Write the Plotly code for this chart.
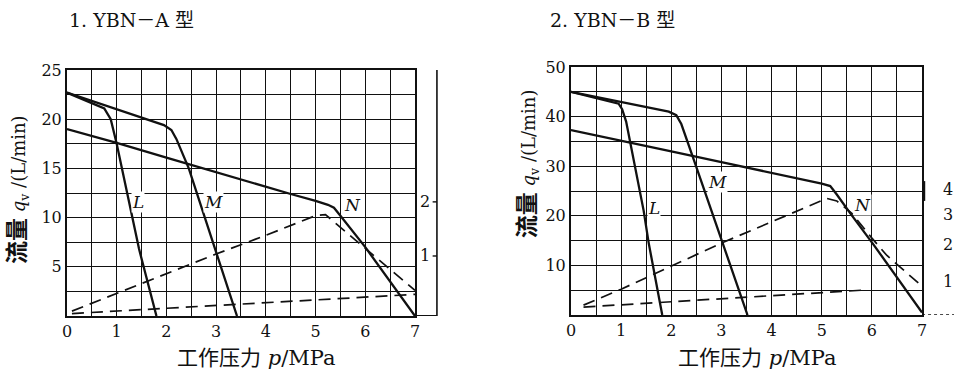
import plotly.graph_objects as go

# ---- data (p in MPa, q in L/min) ----
# 1. YBN-A
A_L_P = [0, 0.75, 0.88, 1.0, 1.45, 1.8]
A_L_Q = [22.7, 21.1, 20.0, 17.5, 6.8, 0]
A_M_P = [0, 1.95, 2.1, 2.2, 2.45, 3.0, 3.42]
A_M_Q = [22.7, 19.4, 18.9, 18.0, 15.0, 6.6, 0]
A_N_P = [0, 1, 2, 3, 4, 4.5, 5.0, 5.25, 5.37, 5.5, 6.0, 7.0]
A_N_Q = [19.0, 17.6, 16.1, 14.6, 13.1, 12.4, 11.7, 11.3, 11.0, 10.2, 7.0, 0]
A_D1_P = [0.1, 1.0, 2.0, 3.0, 4.0, 5.0, 5.2, 6.0, 7.0]
A_D1_Q = [0.5, 2.3, 4.3, 6.3, 8.2, 10.2, 10.3, 6.9, 2.6]
A_D2_P = [0.1, 7.0]
A_D2_Q = [0.25, 2.2]
A_TAGS = ["L", "M", "N"]
A_TAG_P = [1.43, 2.94, 5.75]
A_TAG_Q = [11.6, 11.6, 11.3]
A_SIDE = ["2", "1"]
A_SIDE_Q = [11.6, 6.1]

# 2. YBN-B
B_L_P = [0, 0.95, 1.02, 1.1, 1.45, 1.55, 1.82]
B_L_Q = [45, 42.6, 41.5, 39.0, 21.0, 14.5, 0]
B_M_P = [0, 1.95, 2.1, 2.2, 2.45, 3.0, 3.52]
B_M_Q = [45, 41.0, 40.3, 38.5, 31.3, 15.2, 0]
B_N_P = [0, 1, 2, 3, 4, 5.0, 5.17, 5.3, 5.57, 6.04, 7.0]
B_N_Q = [37.3, 35.2, 33.0, 30.8, 28.7, 26.5, 26.0, 24.3, 20.5, 14.1, 0.5]
B_D1_P = [0.25, 1.0, 3.0, 5.1, 5.3, 5.6, 6.0, 6.3, 7.0]
B_D1_Q = [2.0, 5.2, 14.5, 23.5, 23.0, 20.5, 15.5, 12.0, 5.8]
B_D2_P = [0.25, 5.8]
B_D2_Q = [1.6, 5.0]
B_TAGS = ["L", "M", "N"]
B_TAG_P = [1.65, 2.92, 5.81]
B_TAG_Q = [21.5, 26.8, 22.1]
B_SIDE = ["4", "3", "2", "1"]
B_SIDE_Q = [25.4, 20.3, 14.3, 6.8]

SERIF = "DejaVu Serif"
CJK = "Noto Sans CJK SC"
INK = "#111111"

fig = go.Figure()


def solid(p, q, xa, ya):
    fig.add_trace(go.Scatter(x=p, y=q, mode="lines", xaxis=xa, yaxis=ya,
                             line=dict(color=INK, width=2.3), showlegend=False,
                             hoverinfo="skip"))


def dashed(p, q, xa, ya):
    fig.add_trace(go.Scatter(x=p, y=q, mode="lines", xaxis=xa, yaxis=ya,
                             line=dict(color=INK, width=1.7, dash="12px,7px"),
                             showlegend=False, hoverinfo="skip"))


for p, q in [(A_L_P, A_L_Q), (A_M_P, A_M_Q), (A_N_P, A_N_Q)]:
    solid(p, q, "x", "y")
for p, q in [(A_D1_P, A_D1_Q), (A_D2_P, A_D2_Q)]:
    dashed(p, q, "x", "y")
for p, q in [(B_L_P, B_L_Q), (B_M_P, B_M_Q), (B_N_P, B_N_Q)]:
    solid(p, q, "x2", "y2")
for p, q in [(B_D1_P, B_D1_Q), (B_D2_P, B_D2_Q)]:
    dashed(p, q, "x2", "y2")

grid = dict(showgrid=True, gridcolor=INK, gridwidth=1.4, zeroline=False, automargin=False,
            showline=True, linecolor=INK, linewidth=2, mirror=True, ticks="",
            tickfont=dict(family=SERIF, size=16, color=INK), fixedrange=True)


def minor(step):
    return dict(tickmode="linear", tick0=0, dtick=step, showgrid=True,
                gridcolor=INK, gridwidth=1.4)


fig.update_layout(
    width=954, height=371,
    margin=dict(l=0, r=0, t=0, b=0),
    paper_bgcolor="white", plot_bgcolor="white",
    xaxis=dict(grid, domain=[0.0702, 0.4350], range=[0, 7], tickvals=list(range(8)),
               minor=minor(0.5), anchor="y"),
    yaxis=dict(grid, domain=[0.1482, 0.8113], range=[0, 25], tickvals=[5, 10, 15, 20, 25],
               minor=minor(2.5), anchor="x"),
    xaxis2=dict(grid, domain=[0.5985, 0.9665], range=[0, 7], tickvals=list(range(8)),
                minor=minor(0.5), anchor="y2"),
    yaxis2=dict(grid, domain=[0.1509, 0.8194], range=[0, 50], tickvals=[10, 20, 30, 40, 50],
                minor=minor(5), anchor="x2"),
)

# panel titles
for txt, x in [("1. YBN－A 型", 0.0702), ("2. YBN－B 型", 0.5744)]:
    fig.add_annotation(text=txt, xref="paper", yref="paper", x=x, y=0.946,
                       xanchor="left", yanchor="middle", showarrow=False,
                       font=dict(family=f"{SERIF}, {CJK}", size=19, color=INK))

# axis titles
xt = "工作压力 <i>p</i>/MPa"
for x in [0.2683, 0.7937]:
    fig.add_annotation(text=xt, xref="paper", yref="paper", x=x, y=0.035,
                       xanchor="center", yanchor="middle", showarrow=False,
                       font=dict(family=f"{SERIF}, {CJK}", size=21, color=INK))
yt = ('<span style="font-size:23px;font-weight:bold">流量</span> '
      '<i>q</i><sub>v</sub> /(L/min)')
for x, y in [(0.0189, 0.4879), (0.5524, 0.5600)]:
    fig.add_annotation(text=yt, xref="paper", yref="paper", x=x, y=y, textangle=-90,
                       xanchor="center", yanchor="middle", showarrow=False,
                       font=dict(family=f"{SERIF}, {CJK}", size=18, color=INK))

# curve tags
for tags, ps, qs, xr, yr in [(A_TAGS, A_TAG_P, A_TAG_Q, "x", "y"),
                             (B_TAGS, B_TAG_P, B_TAG_Q, "x2", "y2")]:
    for t, p, q in zip(tags, ps, qs):
        fig.add_annotation(text=f"<i>{t}</i>", x=p, y=q, xref=xr, yref=yr,
                           showarrow=False, bgcolor="white", borderpad=0,
                           font=dict(family=SERIF, size=17, color=INK))

# side scale of panel A
fig.add_shape(type="line", xref="paper", yref="y", x0=0.458, x1=0.458, y0=0, y1=25,
              line=dict(color=INK, width=1.6))
fig.add_shape(type="line", xref="paper", yref="y", x0=0.435, x1=0.458, y0=0, y1=0,
              line=dict(color=INK, width=2))
for t, q in zip(A_SIDE, A_SIDE_Q):
    fig.add_shape(type="line", xref="paper", yref="y", x0=0.4535, x1=0.458, y0=q, y1=q,
                  line=dict(color=INK, width=1.4))
    fig.add_annotation(text=t, xref="paper", yref="y", x=0.4525, y=q, xanchor="right",
                       showarrow=False, font=dict(family=SERIF, size=16, color=INK))

# side labels of panel B
fig.add_shape(type="line", xref="paper", yref="y2", x0=0.9665, x1=1.0, y0=0, y1=0,
              line=dict(color=INK, width=1.4, dash="dot"))
fig.add_shape(type="line", xref="paper", yref="y2", x0=0.969, x1=0.969, y0=23, y1=27,
              line=dict(color=INK, width=1.6))
for t, q in zip(B_SIDE, B_SIDE_Q):
    fig.add_annotation(text=t, xref="paper", yref="y2", x=0.9935, y=q, xanchor="center",
                       showarrow=False, font=dict(family=SERIF, size=16, color=INK))

# drop the browser's default page margin so the figure sits at the window origin
fig.write_html("out.html", config={"displayModeBar": False},
               post_script="document.body.style.margin='0';")
